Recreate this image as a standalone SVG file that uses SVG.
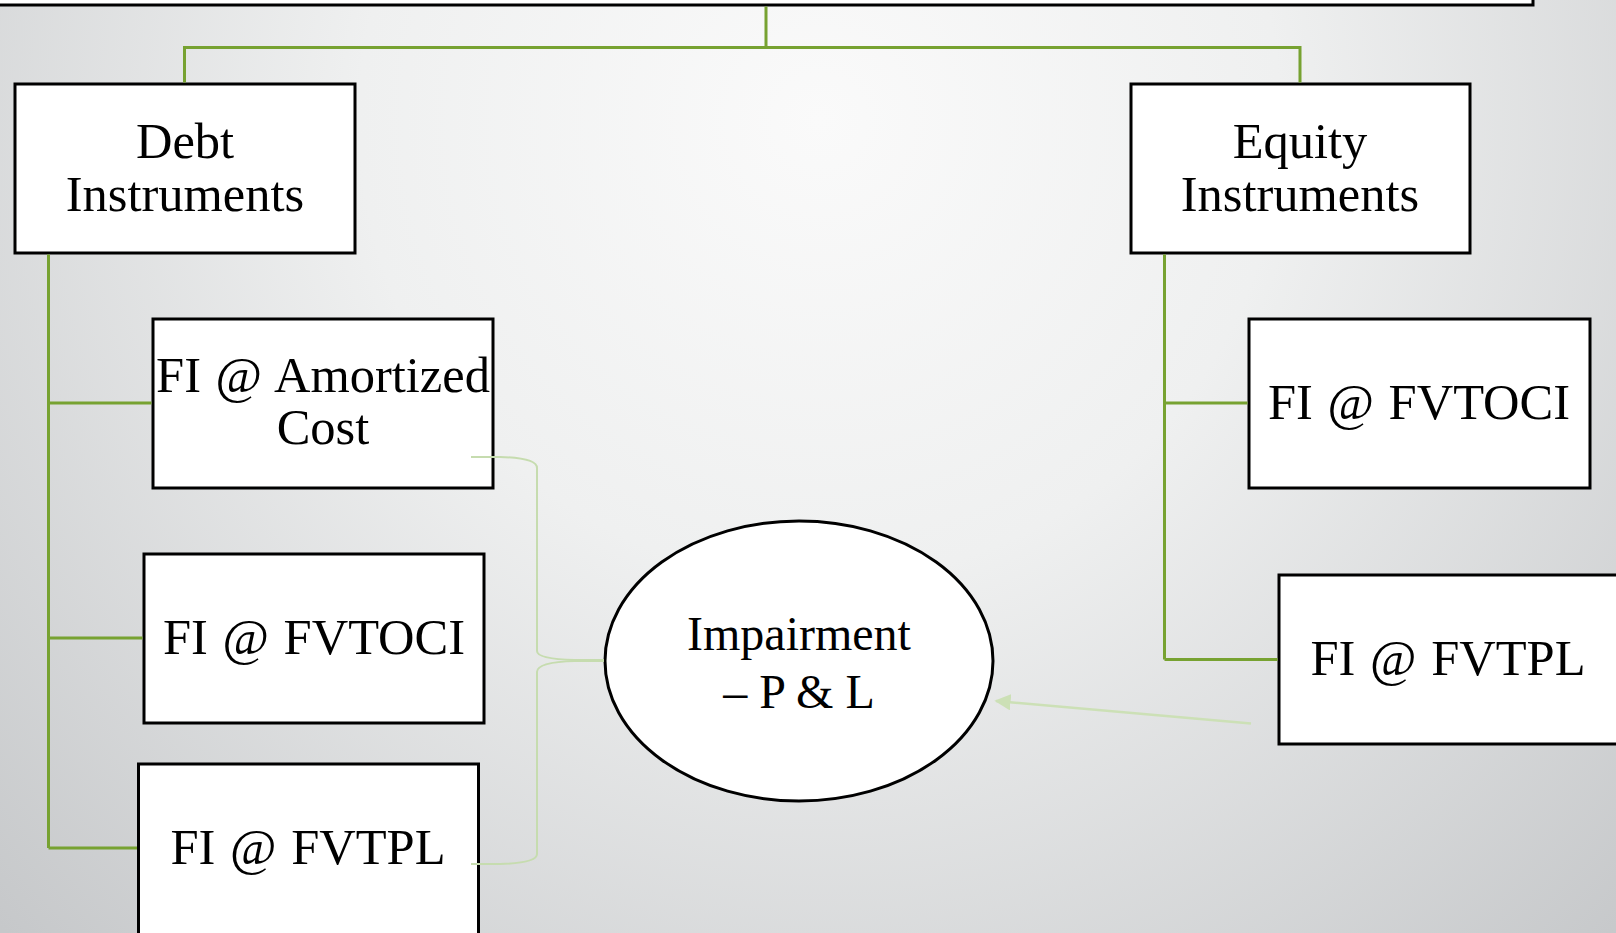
<svg xmlns="http://www.w3.org/2000/svg" width="1616" height="933" viewBox="0 0 1616 933">
  <defs>
    <radialGradient id="bg" cx="820" cy="120" r="1150" gradientUnits="userSpaceOnUse">
      <stop offset="0" stop-color="#fafafa"/>
      <stop offset="0.4" stop-color="#eff0f0"/>
      <stop offset="1" stop-color="#c6c8ca"/>
    </radialGradient>
    <marker id="arr" viewBox="0 0 10 10" refX="9" refY="5" markerWidth="6.5" markerHeight="6.5" orient="auto" markerUnits="strokeWidth">
      <path d="M0,0 L10,5 L0,10 z" fill="#cce0b6"/>
    </marker>
    <style>
      .box { fill: #ffffff; stroke: #000000; stroke-width: 3; }
      .ell { fill: #ffffff; stroke: #000000; stroke-width: 3; }
      .lbl { font-family: "Liberation Serif", "Times New Roman", serif; font-size: 50.5px; fill: #000000; text-anchor: middle; word-spacing: 2px; }
      .tree { fill: none; stroke: #77a231; stroke-width: 3; }
      .soft { fill: none; stroke: #c6dcaf; stroke-width: 2; }
      .softarrow { fill: none; stroke: #cce0b6; stroke-width: 2.5; }
    </style>
  </defs>
  <rect x="0" y="0" width="1616" height="933" fill="url(#bg)"/>

  <g id="top">
    <rect class="box" x="-10" y="-60" width="1543" height="65"/>
  </g>

  <g id="debt">
    <rect class="box" x="15" y="84" width="340" height="169"/>
    <text class="lbl" x="185" y="158">Debt</text>
    <text class="lbl" x="185" y="211">Instruments</text>
  </g>

  <g id="equity">
    <rect class="box" x="1131" y="84" width="339" height="169"/>
    <text class="lbl" x="1300" y="158">Equity</text>
    <text class="lbl" x="1300" y="211">Instruments</text>
  </g>

  <g id="debt-amortized">
    <rect class="box" x="153" y="319" width="340" height="169"/>
    <text class="lbl" x="323" y="392">FI @ Amortized</text>
    <text class="lbl" x="323" y="444">Cost</text>
  </g>

  <g id="debt-fvtoci">
    <rect class="box" x="144" y="554" width="340" height="169"/>
    <text class="lbl" x="314" y="654">FI @ FVTOCI</text>
  </g>

  <g id="debt-fvtpl">
    <rect class="box" x="138.5" y="764" width="340" height="180"/>
    <text class="lbl" x="308" y="864">FI @ FVTPL</text>
  </g>

  <g id="equity-fvtoci">
    <rect class="box" x="1249" y="319" width="341" height="169"/>
    <text class="lbl" x="1419" y="419">FI @ FVTOCI</text>
  </g>

  <g id="equity-fvtpl">
    <rect class="box" x="1279" y="575" width="360" height="169"/>
    <text class="lbl" x="1448" y="675">FI @ FVTPL</text>
  </g>

  <g id="impairment">
    <ellipse class="ell" cx="799" cy="661" rx="194" ry="140"/>
    <text class="lbl" x="799" y="650" style="font-size:48px;word-spacing:0">Impairment</text>
    <text class="lbl" x="799" y="708" style="font-size:48px;word-spacing:0">– P &amp; L</text>
  </g>

  <g id="connectors">
    <path class="tree" d="M766,6.5 V47.5 M184.5,82.5 V47.5 H1300 V82.5"/>
    <path class="tree" d="M48.5,254.5 V848 M48.5,403 H151.5 M48.5,638 H142.5 M48.5,848 H137"/>
    <path class="tree" d="M1164.5,254.5 V659.5 M1164.5,403 H1247.5 M1164.5,659.5 H1277.5"/>
    <path class="soft" d="M471,457 H500 Q537,458 537,468 V651 Q537,659 575,660 H604"/>
    <path class="soft" d="M604,661 H575 Q537,662 537,672 V854 Q537,863 500,864 H471"/>
    <path class="softarrow" d="M1251,723.5 L996,701" marker-end="url(#arr)"/>
  </g>
</svg>
